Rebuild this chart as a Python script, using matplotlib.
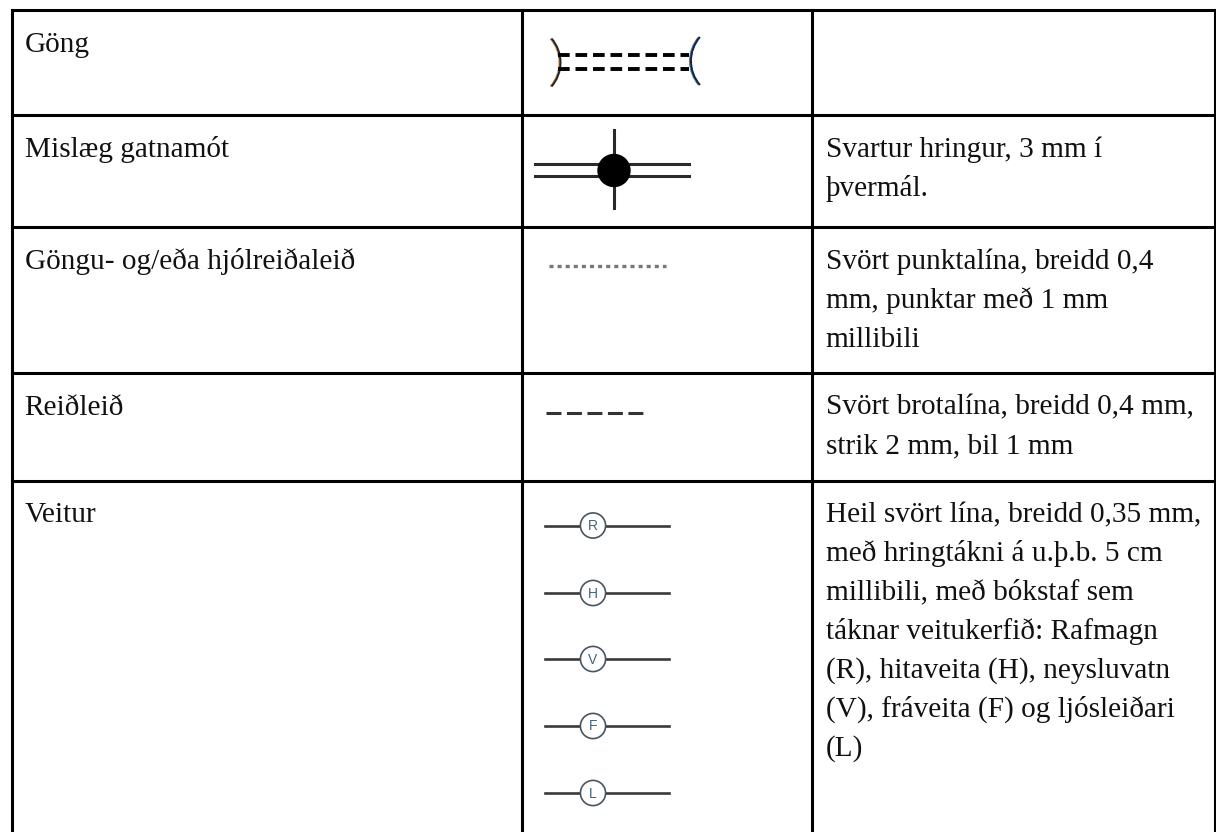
import matplotlib
matplotlib.use('Agg')
import matplotlib.pyplot as plt
from matplotlib.patches import Arc, Circle

# table grid, pixels of the page
col_lines = [11.5, 521.5, 811.5, 1215]
row_lines = [9.5, 115, 227, 373, 480.5]

names = ['Göng', 'Mislæg gatnamót', 'Göngu- og/eða hjólreiðaleið', 'Reiðleið', 'Veitur']
name_y = [52, 157, 269, 415, 522]

notes = [
    ['Svartur hringur, 3 mm í', 'þvermál.'],
    ['Svört punktalína, breidd 0,4', 'mm, punktar með 1 mm', 'millibili'],
    ['Svört brotalína, breidd 0,4 mm,', 'strik 2 mm, bil 1 mm'],
    ['Heil svört lína, breidd 0,35 mm,', 'með hringtákni á u.þ.b. 5 cm', 'millibili, með bókstaf sem',
     'táknar veitukerfið: Rafmagn', '(R), hitaveita (H), neysluvatn', '(V), fráveita (F) og ljósleiðari', '(L)'],
]
note_y = [157, 269, 414, 522]
letters = ['R', 'H', 'V', 'F', 'L']
letter_y = [525.5, 593, 659, 726, 793]

plt.rcParams['font.family'] = ['Liberation Serif', 'DejaVu Serif']

fig = plt.figure(figsize=(12.16, 8.32), dpi=100)
ax = fig.add_axes([0, 0, 1, 1])
ax.set_xlim(0, 1216)
ax.set_ylim(832, 0)
ax.axis('off')

# grid, open at the bottom of the page
for x in col_lines:
    ax.plot([x, x], [row_lines[0], 832], color='black', lw=2.2, solid_capstyle='projecting')
for y in row_lines:
    ax.plot([col_lines[0], col_lines[-1]], [y, y], color='black', lw=2.2, solid_capstyle='projecting')

# text
fs = 21.1
line_h = 38.9
for name, y in zip(names, name_y):
    ax.text(24.6, y, name, fontsize=fs, color='#111111', ha='left', va='baseline')
for block, y in zip(notes, note_y):
    for i, line in enumerate(block):
        ax.text(825.6, y + i * line_h, line, fontsize=fs, color='#111111', ha='left', va='baseline')

# tunnel symbol
for y in [55, 69]:
    ax.plot([558, 689], [y, y], color='black', lw=2.8, dashes=(3.0, 1.5))
ax.add_patch(Arc((523, 62.5), 73, 73, theta1=-41, theta2=41, color='#c9803a', lw=1.4))
ax.add_patch(Arc((524, 62.5), 73, 73, theta1=-41, theta2=41, color='#1c2530', lw=1.4))
ax.add_patch(Arc((726.5, 61), 73, 73, theta1=139, theta2=221, color='#3a7fc0', lw=1.4))
ax.add_patch(Arc((727.5, 61), 73, 73, theta1=139, theta2=221, color='#1c2530', lw=1.4))

# interchange symbol
for y in [164, 175.5]:
    ax.plot([535, 689], [y, y], color='#2a2a2a', lw=2.2)
ax.plot([614, 614], [130, 208], color='#2a2a2a', lw=2.2)
ax.add_patch(Circle((614, 170.5), 16, color='black', zorder=3))

# dotted path
ax.plot([549, 666], [266, 266], color='#777777', lw=2.4, dashes=(1.2, 1.23))

# dashed path
ax.plot([545.5, 642.5], [413, 413], color='#333333', lw=2.2, dashes=(4.9, 1.8))

# utility lines
for letter, y in zip(letters, letter_y):
    ax.plot([545, 669], [y, y], color='#3a3a3a', lw=1.9, zorder=1)
    ax.add_patch(Circle((593, y), 12.6, facecolor='white', edgecolor='#4a5560', lw=1.2, zorder=2))
    ax.text(593, y + 0.5, letter, fontsize=10, color='#3f6680', ha='center', va='center',
            family='Liberation Sans', zorder=3)

fig.savefig('out.png', dpi=100, facecolor='white')
